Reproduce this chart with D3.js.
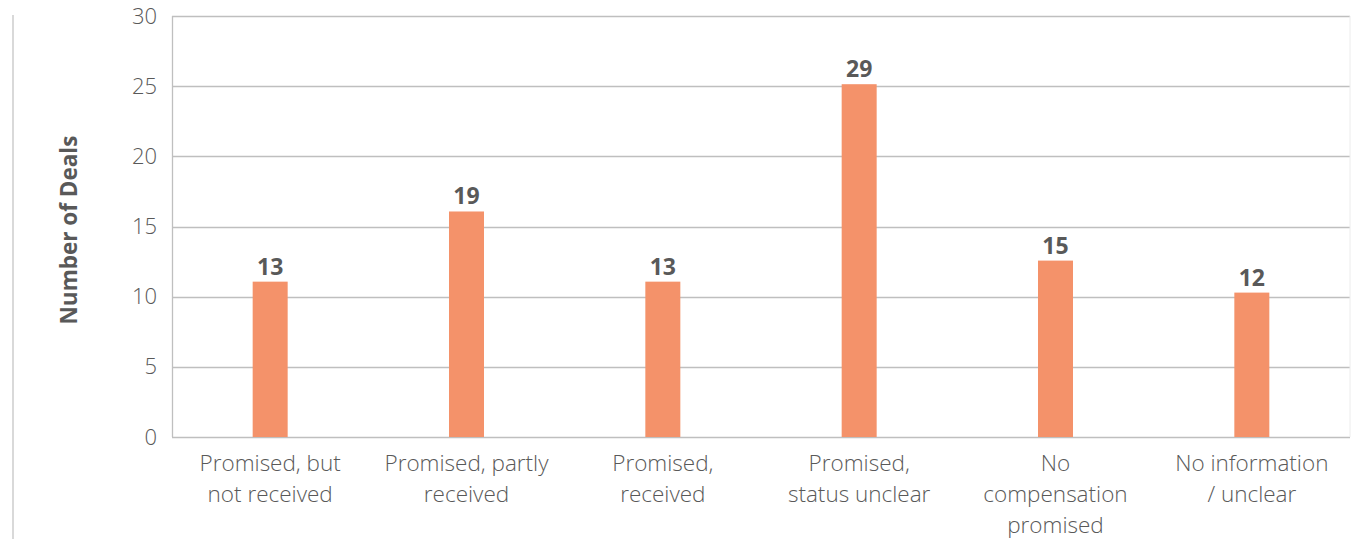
<!DOCTYPE html>
<html>
<head>
<meta charset="utf-8">
<script src="https://cdn.jsdelivr.net/npm/d3@7"></script>
<style>
  body { margin: 0; background: #fff; }
  svg { display: block; font-family: "Open Sans", sans-serif; }
</style>
</head>
<body>
<script>
// categories (line breaks as in the picture)
var categories = [
  ["Promised, but", "not received"],
  ["Promised, partly", "received"],
  ["Promised,", "received"],
  ["Promised,", "status unclear"],
  ["No", "compensation", "promised"],
  ["No information", "/ unclear"]
]
// bar heights as drawn against the axis
var values = [11.07, 16.07, 11.07, 25.14, 12.57, 10.29]
// numbers printed on top of the bars
var labels = ["13", "19", "13", "29", "15", "12"]
var yTicks = [0, 5, 10, 15, 20, 25, 30]

var width = 1351, height = 539
var margin = { top: 16, right: 1, bottom: 102, left: 172 }

var svg = d3.select("body").append("svg")
  .attr("width", width)
  .attr("height", height)

// grey rule at far left
svg.append("line")
  .attr("x1", 13).attr("x2", 13)
  .attr("y1", 15).attr("y2", height)
  .attr("stroke", "#d9d9d9")
  .attr("stroke-width", 2)

var x = d3.scaleBand()
  .domain(d3.range(categories.length))
  .range([margin.left, width - margin.right])

var y = d3.scaleLinear()
  .domain([0, 30])
  .range([height - margin.bottom, margin.top])

// gridlines
svg.append("g")
  .selectAll("line")
  .data(yTicks)
  .enter()
  .append("line")
  .attr("x1", margin.left)
  .attr("x2", width - margin.right)
  .attr("y1", function (d) { return Math.round(y(d)) + 0.5 })
  .attr("y2", function (d) { return Math.round(y(d)) + 0.5 })
  .attr("stroke", "#bfbfbf")
  .attr("stroke-width", 1.3)

// left axis line and right edge
svg.append("line")
  .attr("x1", margin.left + 0.5).attr("x2", margin.left + 0.5)
  .attr("y1", y(30)).attr("y2", y(0))
  .attr("stroke", "#bfbfbf").attr("stroke-width", 1.3)
svg.append("line")
  .attr("x1", width - 1).attr("x2", width - 1)
  .attr("y1", y(30)).attr("y2", y(0))
  .attr("stroke", "#ececec").attr("stroke-width", 1)

// y tick labels
var yAxis = svg.append("g")
  .attr("transform", "translate(" + (margin.left - 15) + ",0)")
  .call(d3.axisLeft(y).tickValues(yTicks).tickSize(0).tickPadding(0))
yAxis.select(".domain").remove()
yAxis.selectAll("text")
  .attr("font-family", "Open Sans")
  .attr("font-weight", 300)
  .attr("font-size", 22)
  .attr("fill", "#595959")

// axis title
svg.append("text")
  .attr("transform", "translate(77," + 230 + ") rotate(-90)")
  .attr("text-anchor", "middle")
  .attr("font-weight", 700)
  .attr("font-size", 22.5)
  .attr("fill", "#595959")
  .text("Number of Deals")

var barWidth = 35

// bars
svg.append("g")
  .selectAll("rect")
  .data(values)
  .enter()
  .append("rect")
  .attr("x", function (d, i) { return x(i) + x.bandwidth() / 2 - barWidth / 2 })
  .attr("y", function (d) { return y(d) })
  .attr("width", barWidth)
  .attr("height", function (d) { return y(0) - y(d) })
  .attr("fill", "#f4926a")

// value labels
svg.append("g")
  .selectAll("text")
  .data(values)
  .enter()
  .append("text")
  .attr("x", function (d, i) { return x(i) + x.bandwidth() / 2 })
  .attr("y", function (d) { return y(d) - 7 })
  .attr("text-anchor", "middle")
  .attr("font-weight", 700)
  .attr("font-size", 23)
  .attr("fill", "#595959")
  .text(function (d, i) { return labels[i] })

// category labels
var cat = svg.append("g")
  .selectAll("text")
  .data(categories)
  .enter()
  .append("text")
  .attr("x", function (d, i) { return x(i) + x.bandwidth() / 2 })
  .attr("y", y(0) + 34)
  .attr("text-anchor", "middle")
  .attr("font-weight", 300)
  .attr("font-size", 22.5)
  .attr("fill", "#595959")

cat.each(function (d) {
  var t = d3.select(this)
  d.forEach(function (line, k) {
    t.append("tspan")
      .attr("x", t.attr("x"))
      .attr("dy", k === 0 ? 0 : 31)
      .text(line)
  })
})
</script>
</body>
</html>
